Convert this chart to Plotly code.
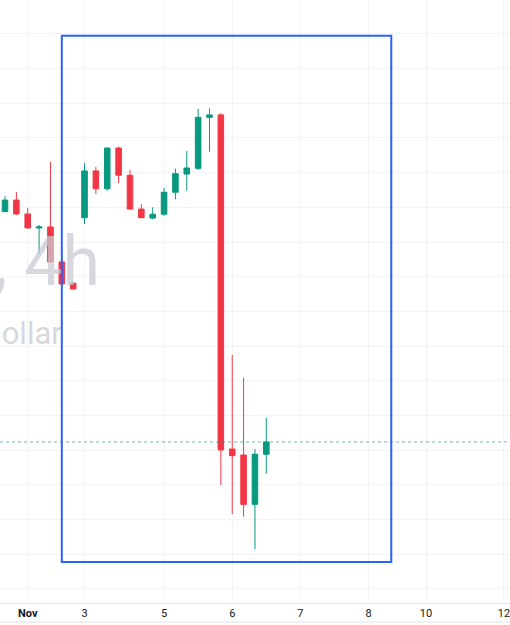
import plotly.graph_objects as go

# ---- data (EURUSD 4h candles) ----
idx = list(range(24))
opens = [1.08775, 1.08842, 1.08762, 1.08681, 1.08687, 1.08485, 1.08362, 1.08740,
         1.09010, 1.08907, 1.09142, 1.08985, 1.08790, 1.08738, 1.08760, 1.08887,
         1.08992, 1.09025, 1.09319, 1.09333, 1.07406, 1.07372, 1.07087, 1.07376]
highs = [1.08865, 1.08888, 1.08796, 1.08698, 1.09063, 1.08544, 1.08368, 1.09056,
         1.09033, 1.09145, 1.09150, 1.09015, 1.08818, 1.08800, 1.08912, 1.09023,
         1.09125, 1.09367, 1.09371, 1.09344, 1.07948, 1.07818, 1.07406, 1.07585]
lows = [1.08773, 1.08756, 1.08678, 1.08531, 1.08479, 1.08355, 1.08326, 1.08704,
        1.08877, 1.08896, 1.08940, 1.08788, 1.08738, 1.08731, 1.08752, 1.08846,
        1.08896, 1.09015, 1.09121, 1.07199, 1.07031, 1.07016, 1.06828, 1.07264]
closes = [1.08842, 1.08762, 1.08681, 1.08687, 1.08485, 1.08358, 1.08329, 1.09010,
          1.08907, 1.09142, 1.08985, 1.08790, 1.08740, 1.08760, 1.08887, 1.08994,
          1.09027, 1.09319, 1.09333, 1.07401, 1.07368, 1.07087, 1.07376, 1.07447]

tick_pos = [2, 7, 14, 20, 26, 32, 37.06, 43.92]
tick_labels = ["<b>Nov</b>", "3", "5", "6", "7", "8", "10", "12"]

box_x = [5, 34]
box_price = [1.06755, 1.09790]

last_price = closes[-1]

wm_line1 = "EURUSD, 4h"
wm_line2 = "Euro / U.S. Dollar"

GREEN = "#089981"
RED = "#F23645"

fig = go.Figure()

# watermark (drawn first so candles sit on top)
fig.add_trace(go.Scatter(
    x=[8.36], y=[1.08450], mode="text", text=[wm_line1],
    textposition="middle left",
    textfont=dict(family="Roboto", size=68, color="rgba(200,203,210,0.75)"),
    hoverinfo="skip", showlegend=False, cliponaxis=True))
fig.add_trace(go.Scatter(
    x=[5.0], y=[1.08058], mode="text", text=[wm_line2],
    textposition="middle left",
    textfont=dict(family="Roboto", size=31, color="rgba(200,203,210,0.75)"),
    hoverinfo="skip", showlegend=False, cliponaxis=True))

fig.add_trace(go.Candlestick(
    x=idx, open=opens, high=highs, low=lows, close=closes,
    increasing=dict(line=dict(color=GREEN, width=1), fillcolor=GREEN),
    decreasing=dict(line=dict(color=RED, width=1), fillcolor=RED),
    whiskerwidth=0, showlegend=False))

# last price dotted line
fig.add_shape(type="line", xref="paper", x0=0, x1=1, y0=last_price, y1=last_price,
              line=dict(color="rgba(8,153,129,0.6)", width=1, dash="dot"))
# blue rectangle
fig.add_shape(type="rect", x0=box_x[0], x1=box_x[1], y0=box_price[0], y1=box_price[1],
              line=dict(color="#2962FF", width=2), fillcolor="rgba(0,0,0,0)")
# bottom border line of time scale
fig.add_shape(type="line", xref="paper", yref="paper", x0=0, x1=1, y0=-0.0315, y1=-0.0315,
              line=dict(color="#e0e3eb", width=1))

xmin = -0.44
xmax = xmin + 510 / 11.361
ymax = 1.0940 + 103.3 * 0.002 / 34.68
ymin = 1.0940 - (603 - 103.3) * 0.002 / 34.68

fig.update_layout(
    width=510, height=625,
    margin=dict(l=0, r=0, t=0, b=22),
    paper_bgcolor="white", plot_bgcolor="white",
    showlegend=False,
    boxgap=0.3,
    xaxis=dict(range=[xmin, xmax], tickmode="array", tickvals=tick_pos, ticktext=tick_labels,
               showgrid=True, gridcolor="#f2f3f5", gridwidth=1, zeroline=False,
               showline=True, linecolor="#e0e3eb", linewidth=1,
               ticks="", tickfont=dict(family="Roboto", size=11, color="#131722"),
               ticklabeloverflow="allow",
               rangeslider=dict(visible=False), fixedrange=True),
    yaxis=dict(range=[ymin, ymax], tick0=1.094, dtick=0.002, showticklabels=False,
               showgrid=True, gridcolor="#f2f3f5", gridwidth=1, zeroline=False,
               showline=False, ticks="", fixedrange=True),
)

fig.write_html("out.html")
